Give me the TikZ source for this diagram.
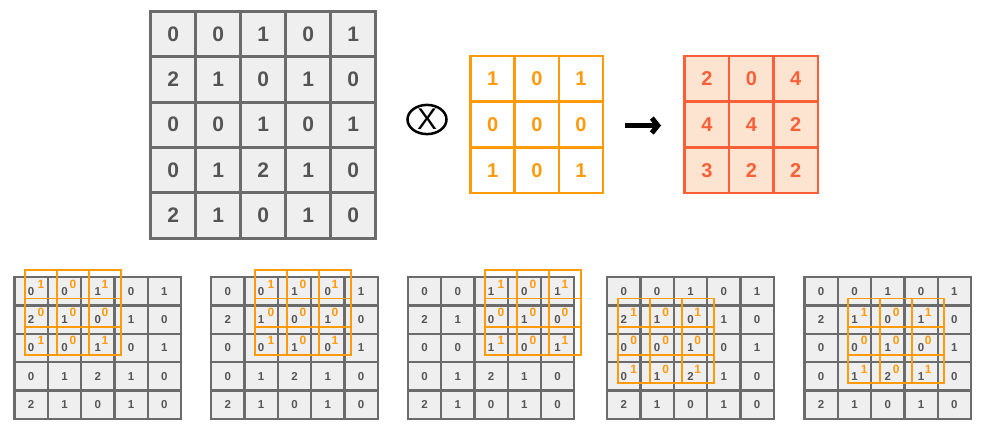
\documentclass[tikz,border=0pt]{standalone}
\usepackage{fontspec}
\setmainfont{Liberation Sans}
\usepackage{tikz}
\usetikzlibrary{positioning,shapes.geometric,arrows.meta}

\definecolor{cellgray}{HTML}{EFEFEF}
\definecolor{linegray}{HTML}{6B6B6B}
\definecolor{digitgray}{HTML}{555555}
\definecolor{kernorange}{HTML}{FF9A0A}
\definecolor{resred}{HTML}{FA5F37}
\definecolor{resfill}{HTML}{FCE4D0}

\tikzset{
  incell/.style={draw=linegray, fill=cellgray, line width=3pt, inner sep=0pt,
    minimum width=45pt, minimum height=45.3pt, text=digitgray,
    font=\fontsize{21}{21}\selectfont\bfseries},
  kerncell/.style={draw=kernorange, fill=white, line width=2.7pt, inner sep=0pt,
    minimum width=44.1pt, minimum height=45.7pt, text=kernorange,
    font=\fontsize{20}{20}\selectfont\bfseries},
  rescell/.style={draw=resred, fill=resfill, line width=2.7pt, inner sep=0pt,
    minimum width=44.4pt, minimum height=45.7pt, text=resred,
    font=\fontsize{20}{20}\selectfont\bfseries},
  smallcell/.style={draw=linegray, fill=cellgray, line width=2.3pt, inner sep=0pt,
    minimum width=33.3pt, minimum height=28.3pt, text=digitgray,
    font=\fontsize{11.5}{11.5}\selectfont\bfseries},
  wincell/.style={draw=kernorange, line width=1.8pt, inner sep=0pt,
    minimum width=32pt, minimum height=28.2pt, text=kernorange,
    font=\fontsize{12}{12}\selectfont\bfseries},
  bigarrow/.style={line width=5pt, -{Straight Barb[length=6pt 0,width=15pt 0]}}
}

\begin{document}
\begin{tikzpicture}[x=1pt,y=-1pt]
  \useasboundingbox (0,0) rectangle (981,434);

  % Input matrix
  \foreach \r/\row in {0/{0,0,1,0,1}, 1/{2,1,0,1,0}, 2/{0,0,1,0,1}, 3/{0,1,2,1,0}, 4/{2,1,0,1,0}} {
    \foreach \v [count=\c from 0] in \row {
      \node[incell] (in-\r-\c) at ({150.8+45*(\c+0.5)}, {11.5+45.3*(\r+0.5)}) {\v};
    }
  }

  % Convolution sign
  \node[ellipse, draw, line width=2.5pt, minimum width=39pt, minimum height=29pt,
    inner sep=0pt, font=\fontsize{30}{30}\selectfont] (otimes) at (427,119.5) {X};

  % Kernel and result
  \foreach \r/\krow/\rrow in {0/{1,0,1}/{2,0,4}, 1/{0,0,0}/{4,4,2}, 2/{1,0,1}/{3,2,2}} {
    \foreach \v [count=\c from 0] in \krow {
      \node[kerncell] (k-\r-\c) at ({470.7+44.1*(\c+0.5)}, {56+45.7*(\r+0.5)}) {\v};
    }
    \foreach \v [count=\c from 0] in \rrow {
      \node[rescell] (res-\r-\c) at ({684.7+44.4*(\c+0.5)}, {56+45.7*(\r+0.5)}) {\v};
    }
  }

  % Arrow
  \coordinate (arrtail) at (625,125.5);
  \coordinate (arrhead) at (661,125.5);
  \draw[bigarrow] (arrtail) -- (arrhead);

  % Sliding steps
  \foreach \p/\px/\wr/\wc in {1/14.5/0/0, 2/211.2/0/1, 3/407.8/0/2, 4/607.2/1/0, 5/804.5/1/1} {
    \foreach \r/\row in {0/{0,0,1,0,1}, 1/{2,1,0,1,0}, 2/{0,0,1,0,1}, 3/{0,1,2,1,0}, 4/{2,1,0,1,0}} {
      \foreach \v [count=\c from 0] in \row {
        \node[smallcell] (s\p-\r-\c) at ({\px+33.3*(\c+0.5)}, {277.2+28.3*(\r+0.5)}) {\v};
      }
    }
    % Kernel window on top
    \foreach \r/\krow in {0/{1,0,1}, 1/{0,0,0}, 2/{1,0,1}} {
      \foreach \v [count=\c from 0] in \krow {
        \node[wincell] (w\p-\r-\c) at ({\px+33.3*\wc+10.5+32*(\c+0.5)}, {270.2+28.3*\wr+28.2*(\r+0.5)}) {\v};
      }
    }
  }
\end{tikzpicture}
\end{document}
